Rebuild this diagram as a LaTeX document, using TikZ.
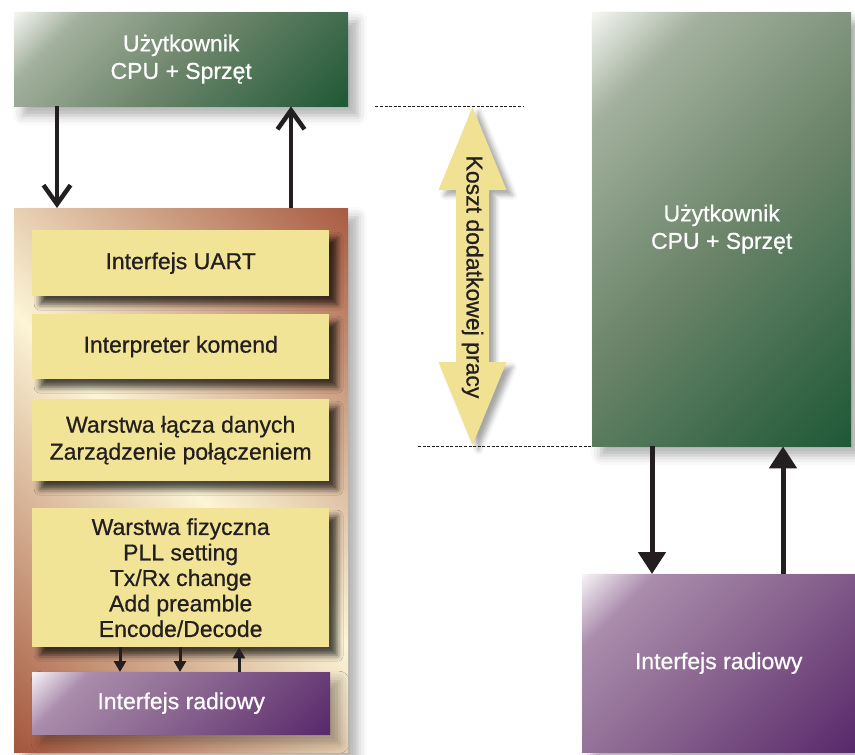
\documentclass[tikz,border=0pt]{standalone}
\usepackage{fontspec}
\setmainfont{Liberation Sans}[FakeBold=0.7]
\usetikzlibrary{arrows.meta,shadows.blur,calc}

% palette
\definecolor{ink}{RGB}{35,31,32}
\definecolor{boxY}{RGB}{242,228,150}
\definecolor{arrowY}{RGB}{240,226,146}
\definecolor{gA}{RGB}{244,245,240}
\definecolor{gB}{RGB}{162,176,157}
\definecolor{gC}{RGB}{110,134,108}
\definecolor{gD}{RGB}{30,88,54}
\definecolor{pA}{RGB}{246,242,246}
\definecolor{pB}{RGB}{170,140,172}
\definecolor{pC}{RGB}{138,102,144}
\definecolor{pD}{RGB}{88,40,106}
\definecolor{brA}{RGB}{163,86,60}
\definecolor{brB}{RGB}{252,245,214}
\definecolor{brC}{RGB}{168,92,66}

% diagonal gradients; the box corners fall on 32.3bp and 67.7bp
\pgfdeclarehorizontalshading{greenfade}{100bp}{color(0bp)=(gA); color(32.3bp)=(gA); color(38bp)=(gB); color(50bp)=(gC); color(67.7bp)=(gD); color(100bp)=(gD)}
\pgfdeclarehorizontalshading{purplefade}{100bp}{color(0bp)=(pA); color(32.3bp)=(pA); color(38bp)=(pB); color(50bp)=(pC); color(67.7bp)=(pD); color(100bp)=(pD)}
\pgfdeclarehorizontalshading{brownband}{100bp}{color(0bp)=(brA); color(32.3bp)=(brA); color(50bp)=(brB); color(67.7bp)=(brC); color(100bp)=(brC)}

\tikzset{
  % fill a node with a gradient running at a true angle, corner to corner
  diagfill/.style 2 args={path picture={
    \shade[shading=#1, shading angle=#2]
      let \p1=(path picture bounding box.south west),
          \p2=(path picture bounding box.north east),
          \n1={(\x2-\x1+\y2-\y1)/2}
      in ($(\p1)!0.5!(\p2)$) ++(-\n1,-\n1) rectangle ++(2*\n1,2*\n1);
  }},
  box/.style={rectangle, inner sep=0pt, anchor=north west,
    font=\fontsize{23}{25.5}\selectfont, align=center},
  softshadow/.style={blur shadow={shadow xshift=9pt, shadow yshift=-9pt,
    shadow blur radius=10pt, shadow opacity=32}},
  layer/.style={box, fill=boxY, text=ink,
    blur shadow={shadow xshift=8pt, shadow yshift=-8pt,
    shadow blur radius=6pt, shadow opacity=70}},
  userbox/.style={box, text=white, font=\fontsize{23}{27.5}\selectfont,
    diagfill={greenfade}{-45}, softshadow},
  radiobox/.style={box, text=white, diagfill={purplefade}{-45}, softshadow},
  barbarrow/.style={draw=ink, line width=4.5pt,
    -{Straight Barb[length=19pt,width=27pt]}},
  bigarrow/.style={draw=ink, line width=5pt, -{Triangle[length=22pt,width=27pt]}},
  smallarrow/.style={draw=ink, line width=3pt, -{Triangle[length=11pt,width=12pt]}},
  dashline/.style={draw=ink, line width=1.2pt, dash pattern=on 3pt off 1.6pt},
}

\begin{document}
\begin{tikzpicture}[x=1pt,y=-1pt]
\useasboundingbox (0,0) rectangle (855,755);

% ---- left column: user on top of the protocol stack ----
\node[userbox, minimum width=334pt, minimum height=94pt] (userL) at (14,12)
  {Użytkownik\\CPU + Sprzęt};

\node[box, minimum width=334pt, minimum height=544pt,
      diagfill={brownband}{45}, softshadow] (stack) at (14,208) {};

\node[layer, minimum width=297pt, minimum height=66pt] (uart) at (32,230)
  {Interfejs UART};
\node[layer, minimum width=297pt, minimum height=65pt] (cmd) at (32,314)
  {Interpreter komend};
\node[layer, minimum width=297pt, minimum height=82pt,
      font=\fontsize{23}{27}\selectfont] (link) at (32,399)
  {Warstwa łącza danych\\Zarządzenie połączeniem};
\node[layer, minimum width=297pt, minimum height=139pt] (phys) at (32,508)
  {Warstwa fizyczna\\PLL setting\\Tx/Rx change\\Add preamble\\Encode/Decode};
\node[radiobox, minimum width=298pt, minimum height=62pt] (radioL) at (32,672)
  {Interfejs radiowy};

\draw[barbarrow] ([xshift=43pt]userL.south west) -- ([xshift=43pt]stack.north west);
\draw[barbarrow] ([xshift=277pt]stack.north west) -- ([xshift=277pt]userL.south west);

\draw[smallarrow] ([xshift=88pt]phys.south west) -- ([xshift=88pt]radioL.north west);
\draw[smallarrow] ([xshift=148pt]phys.south west) -- ([xshift=148pt]radioL.north west);
\draw[smallarrow] ([xshift=207pt]radioL.north west) -- ([xshift=207pt]phys.south west);

% ---- right column: user directly on the radio ----
\node[userbox, minimum width=259pt, minimum height=434pt] (userR) at (592,12)
  {Użytkownik\\CPU + Sprzęt};
\node[radiobox, minimum width=273pt, minimum height=178pt] (radioR) at (582,574)
  {Interfejs radiowy};

\coordinate (rDown) at ([xshift=60pt]userR.south west);
\coordinate (rUp) at ([xshift=191pt]userR.south west);
\draw[bigarrow] (rDown) -- (rDown |- radioR.north);
\draw[bigarrow] (rUp |- radioR.north) -- (rUp);

% ---- overhead span between the two user levels ----
\coordinate (dtA) at ([xshift=27pt]userL.south east);
\coordinate (dtB) at ([xshift=175pt]userL.south east);
\coordinate (dbA) at ([xshift=-174pt]userR.south west);
\draw[dashline] (dtA) -- (dtB);
\draw[dashline] (dbA) -- (userR.south west);

\coordinate (costTop) at (472.5,107);
\coordinate (costBot) at (472.5,445);
\fill[arrowY, blur shadow={shadow xshift=6pt, shadow yshift=-5pt,
      shadow blur radius=5pt, shadow opacity=35}]
  (costTop) -- (506.5,190) -- (489,190) -- (489,362) -- (506.5,362)
  -- (costBot) -- (438.5,362) -- (456,362) -- (456,190) -- (438.5,190) -- cycle;
\node[rotate=-90, text=ink, font=\fontsize{23}{25.5}\selectfont, inner sep=0pt]
  (costlbl) at (472.5,277) {Koszt dodatkowej pracy};
\end{tikzpicture}
\end{document}
